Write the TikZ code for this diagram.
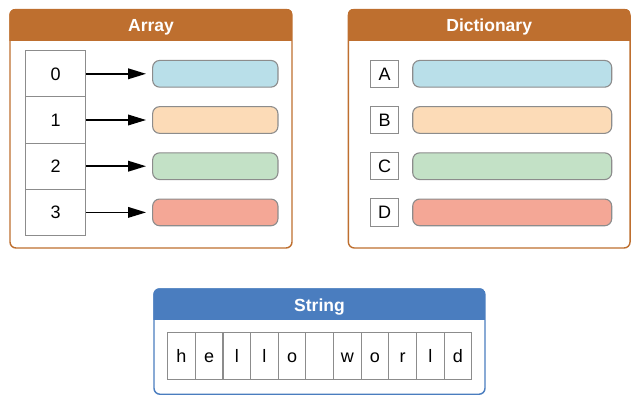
\documentclass[tikz,border=0pt]{standalone}
\usepackage{fontspec}
\setmainfont{Liberation Sans}
\usetikzlibrary{arrows.meta}
\definecolor{panelorange}{HTML}{BE6F2F}
\definecolor{panelblue}{HTML}{4A7DBF}
\definecolor{cellgray}{HTML}{8C8C8C}
\definecolor{valblue}{HTML}{B9DFE9}
\definecolor{valorange}{HTML}{FCDBB7}
\definecolor{valgreen}{HTML}{C3E1C6}
\definecolor{valred}{HTML}{F4A796}
\tikzset{
  panel/.style={rounded corners=6pt, line width=1.4pt, fill=white, inner sep=0pt},
  title/.style={text=white, inner sep=0pt, text height=12.9pt, text depth=0pt, font=\fontsize{17.5}{20}\selectfont\bfseries},
  cell/.style={draw=cellgray, line width=1.1pt, fill=white, inner sep=0pt, text height=13pt, text depth=0pt, font=\fontsize{18}{21}\selectfont},
  value/.style={draw=cellgray, line width=1.1pt, rounded corners=7pt, inner sep=0pt, minimum height=26.7pt},
}
\begin{document}
\begin{tikzpicture}[x=1pt, y=-1pt, >={Triangle[length=18pt, width=10.5pt]}]
  \useasboundingbox (0,0) rectangle (640,404);
  % array
  \node[panel, draw=panelorange, minimum width=282pt, minimum height=238.5pt] (array) at (151,128.75) {};
  \begin{scope}
    \clip[rounded corners=6pt] (array.south west) rectangle (array.north east);
    \fill[panelorange] (array.north west) rectangle (292,41);
  \end{scope}
  \node[title] (arraytitle) at (151,25.3) {Array};
  \node[cell, minimum width=60pt, minimum height=46.2pt] (idx0) at (55.7,73.8) {0};
  \node[cell, minimum width=60pt, minimum height=46.2pt] (idx1) at (55.7,120) {1};
  \node[cell, minimum width=60pt, minimum height=46.2pt] (idx2) at (55.7,166.2) {2};
  \node[cell, minimum width=60pt, minimum height=46.2pt] (idx3) at (55.7,212.4) {3};
  \node[value, fill=valblue, minimum width=125.3pt] (val0) at (215.3,73.8) {};
  \node[value, fill=valorange, minimum width=125.3pt] (val1) at (215.3,120) {};
  \node[value, fill=valgreen, minimum width=125.3pt] (val2) at (215.3,166.2) {};
  \node[value, fill=valred, minimum width=125.3pt] (val3) at (215.3,212.4) {};
  \draw[->, line width=1.8pt, shorten >=6pt] (idx0) -- (val0);
  \draw[->, line width=1.8pt, shorten >=6pt] (idx1) -- (val1);
  \draw[->, line width=1.8pt, shorten >=6pt] (idx2) -- (val2);
  \draw[->, line width=1.8pt, shorten >=6pt] (idx3) -- (val3);
  % dictionary
  \node[panel, draw=panelorange, minimum width=281.7pt, minimum height=238.5pt] (dict) at (489.2,128.75) {};
  \begin{scope}
    \clip[rounded corners=6pt] (dict.south west) rectangle (dict.north east);
    \fill[panelorange] (dict.north west) rectangle (630,41);
  \end{scope}
  \node[title] (dicttitle) at (489.2,25.3) {Dictionary};
  \node[cell, minimum width=28pt, minimum height=27.3pt] (keyA) at (384.7,73.8) {A};
  \node[cell, minimum width=28pt, minimum height=27.3pt] (keyB) at (384.7,120) {B};
  \node[cell, minimum width=28pt, minimum height=27.3pt] (keyC) at (384.7,166.2) {C};
  \node[cell, minimum width=28pt, minimum height=27.3pt] (keyD) at (384.7,212.4) {D};
  \node[value, fill=valblue, minimum width=199pt] (dvalA) at (512.2,73.8) {};
  \node[value, fill=valorange, minimum width=199pt] (dvalB) at (512.2,120) {};
  \node[value, fill=valgreen, minimum width=199pt] (dvalC) at (512.2,166.2) {};
  \node[value, fill=valred, minimum width=199pt] (dvalD) at (512.2,212.4) {};
  % string
  \node[panel, draw=panelblue, minimum width=331pt, minimum height=105.3pt] (string) at (319.5,341.6) {};
  \begin{scope}
    \clip[rounded corners=6pt] (string.south west) rectangle (string.north east);
    \fill[panelblue] (string.north west) rectangle (485,320);
  \end{scope}
  \node[title] (stringtitle) at (319.5,304.6) {String};
  \node[cell, minimum width=27.64pt, minimum height=46.6pt] (chr1) at (181.5,356) {h};
  \node[cell, minimum width=27.64pt, minimum height=46.6pt] (chr2) at (209.2,356) {e};
  \node[cell, minimum width=27.64pt, minimum height=46.6pt] (chr3) at (236.8,356) {l};
  \node[cell, minimum width=27.64pt, minimum height=46.6pt] (chr4) at (264.4,356) {l};
  \node[cell, minimum width=27.64pt, minimum height=46.6pt] (chr5) at (292.1,356) {o};
  \node[cell, minimum width=27.64pt, minimum height=46.6pt] (chr6) at (319.7,356) {};
  \node[cell, minimum width=27.64pt, minimum height=46.6pt] (chr7) at (347.3,356) {w};
  \node[cell, minimum width=27.64pt, minimum height=46.6pt] (chr8) at (375.0,356) {o};
  \node[cell, minimum width=27.64pt, minimum height=46.6pt] (chr9) at (402.6,356) {r};
  \node[cell, minimum width=27.64pt, minimum height=46.6pt] (chr10) at (430.3,356) {l};
  \node[cell, minimum width=27.64pt, minimum height=46.6pt] (chr11) at (457.9,356) {d};
\end{tikzpicture}
\end{document}
